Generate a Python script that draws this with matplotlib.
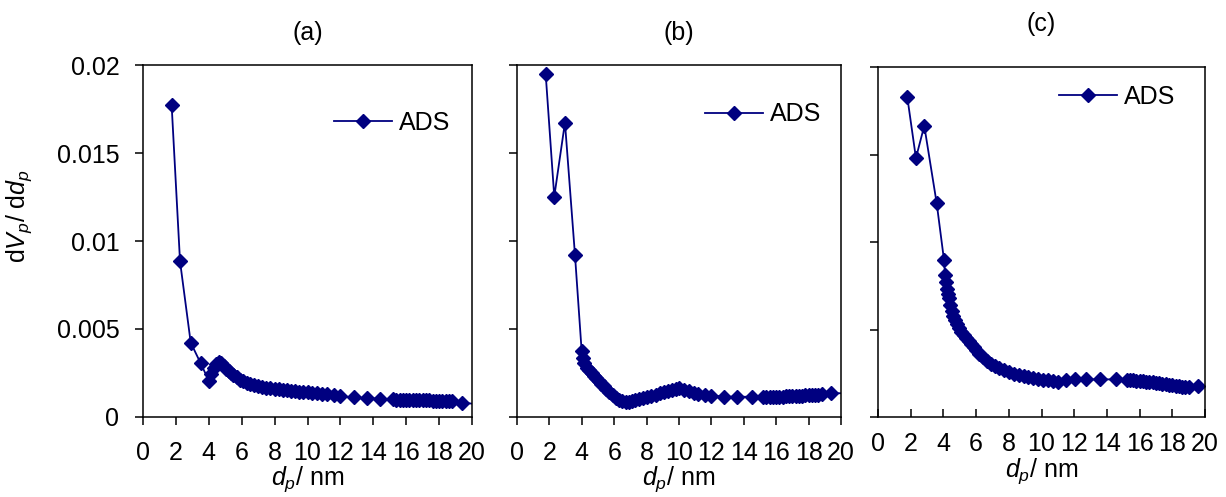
import matplotlib
matplotlib.use("Agg")
import matplotlib.pyplot as plt

plt.rcParams["font.family"] = ["Liberation Sans", "DejaVu Sans"]
plt.rcParams["mathtext.fontset"] = "custom"
plt.rcParams["mathtext.rm"] = "Liberation Sans"
plt.rcParams["mathtext.it"] = "Liberation Sans:italic"

# pore size distribution, panel (a)
x_a = [1.74, 2.25, 2.90, 3.50, 4.01, 4.15, 4.30, 4.45, 4.60, 4.75, 4.90, 5.05, 5.20,
       5.35, 5.50, 5.70, 5.90, 6.10, 6.30, 6.50, 6.75, 7.00, 7.25, 7.50, 7.75, 8.00,
       8.25, 8.50, 8.75, 9.00, 9.25, 9.50, 9.75, 10.0, 10.3, 10.6, 10.9, 11.2, 11.6,
       12.0, 12.8, 13.6, 14.4, 15.2, 15.4, 15.6, 15.8, 16.0, 16.2, 16.4, 16.6, 16.8,
       17.0, 17.2, 17.4, 17.6, 17.8, 18.0, 18.2, 18.4, 18.6, 18.8, 19.37, 20.6]
y_a = [0.01774, 0.00885, 0.00423, 0.00306, 0.00205, 0.00245, 0.00280, 0.00300, 0.00312,
       0.00305, 0.00290, 0.00275, 0.00262, 0.00250, 0.00238, 0.00225, 0.00213, 0.00203,
       0.00195, 0.00190, 0.00184, 0.00178, 0.00172, 0.00167, 0.00163, 0.00160,
       0.00157, 0.00154, 0.00151, 0.00148, 0.00146, 0.00144, 0.00142, 0.00140, 0.00137,
       0.00134, 0.00131, 0.00128, 0.00125, 0.00118, 0.00112, 0.00107, 0.00104,
       0.00100, 0.00099, 0.00098, 0.00098, 0.00097, 0.00097, 0.00096, 0.00096, 0.00095,
       0.00095, 0.00094, 0.00094, 0.00093, 0.00093, 0.00093, 0.00092, 0.00092, 0.00091,
       0.00091, 0.00082, 0.00070]

# panel (b)
x_b = [1.77, 2.30, 2.96, 3.58, 3.99, 4.05, 4.15, 4.30, 4.45, 4.60, 4.75, 4.90, 5.05,
       5.20, 5.35, 5.50, 5.70, 5.90, 6.10, 6.30, 6.50, 6.70, 6.90, 7.10, 7.30, 7.55,
       7.80, 8.05, 8.30, 8.55, 8.80, 9.05, 9.30, 9.55, 9.80, 10.0, 10.3, 10.6, 10.9,
       11.2, 11.6, 12.0, 12.8, 13.6, 14.5, 15.2, 15.4, 15.6, 15.8, 16.0, 16.2, 16.4,
       16.6, 16.8, 17.0, 17.2, 17.4, 17.6, 17.8, 18.0, 18.2, 18.4, 18.6, 18.8, 19.4, 20.6]
y_b = [0.01949, 0.01252, 0.01673, 0.00919, 0.00376, 0.00336, 0.00305, 0.00280, 0.00265,
       0.00250, 0.00235, 0.00220, 0.00205, 0.00190, 0.00175, 0.00158, 0.00140, 0.00124,
       0.00108, 0.00098, 0.00090, 0.00087, 0.00088, 0.00091, 0.00095, 0.00100,
       0.00106, 0.00112, 0.00119, 0.00126, 0.00134, 0.00142, 0.00150, 0.00156, 0.00161,
       0.00163, 0.00155, 0.00146, 0.00138, 0.00132, 0.00125, 0.00122, 0.00116, 0.00115,
       0.00115, 0.00113, 0.00113, 0.00114, 0.00114, 0.00115, 0.00116, 0.00116,
       0.00117, 0.00118, 0.00119, 0.00120, 0.00121, 0.00122, 0.00123, 0.00124, 0.00125,
       0.00126, 0.00127, 0.00128, 0.00135, 0.00135]

# panel (c)
x_c = [1.79, 2.32, 2.83, 3.59, 4.04, 4.10, 4.18, 4.24, 4.30, 4.36, 4.42, 4.50, 4.60,
       4.70, 4.81, 4.95, 5.10, 5.25, 5.40, 5.55, 5.70, 5.85, 6.00, 6.20, 6.40, 6.65,
       6.90, 7.15, 7.40, 7.70, 8.00, 8.30, 8.60, 8.90, 9.20, 9.50, 9.80, 10.1, 10.4,
       10.7, 11.0, 11.5, 12.05, 12.7, 13.6, 14.55, 15.2, 15.4, 15.6, 15.8, 16.0, 16.2,
       16.4, 16.6, 16.8, 17.0, 17.2, 17.4, 17.6, 17.8, 18.0, 18.2, 18.4, 18.6, 18.8,
       19.0, 19.57, 20.6]
y_c = [0.01829, 0.01480, 0.01664, 0.01221, 0.00895, 0.00809, 0.00770, 0.00733, 0.00705,
       0.00682, 0.00640, 0.00605, 0.00578, 0.00552, 0.00530, 0.00508, 0.00488, 0.00468,
       0.00450, 0.00432, 0.00415, 0.00398, 0.00382, 0.00362, 0.00343, 0.00318,
       0.00302, 0.00290, 0.00279, 0.00268, 0.00255, 0.00245, 0.00238, 0.00232, 0.00227,
       0.00222, 0.00218, 0.00214, 0.00210, 0.00205, 0.00202, 0.00210, 0.00215, 0.00215,
       0.00215, 0.00215, 0.00213, 0.00211, 0.00210, 0.00208, 0.00206, 0.00204, 0.00202,
       0.00200, 0.00198, 0.00196, 0.00193, 0.00190, 0.00187, 0.00184, 0.00181, 0.00179,
       0.00177, 0.00174, 0.00173, 0.00172, 0.00177, 0.00170]

titles = ["(a)", "(b)", "(c)"]
series = [(x_a, y_a), (x_b, y_b), (x_c, y_c)]
x_ticks = list(range(0, 21, 2))
y_ticks = [0, 0.005, 0.01, 0.015, 0.02]
y_tick_labels = ["0", "0.005", "0.01", "0.015", "0.02"]

color = "#000080"
fs = 18

fig = plt.figure(figsize=(12.26, 4.97), dpi=100)
positions = [
    [143 / 1226, 80 / 497, 329 / 1226, 352 / 497],
    [517 / 1226, 80 / 497, 324 / 1226, 352 / 497],
    [878 / 1226, 80 / 497, 327 / 1226, 350 / 497],
]
legend_pos = [(0.935, 0.835), (0.94, 0.86), (0.91, 0.915)]
title_pad = [18, 18, 26]

for i, ((xs, ys), title) in enumerate(zip(series, titles)):
    ax = fig.add_axes(positions[i])
    ax.plot(xs, ys, color=color, linewidth=1.3, marker="D", markersize=7,
            markeredgecolor=color, markerfacecolor=color, label="ADS")
    ax.set_xlim(0, 20)
    ax.set_ylim(0, 0.02)
    ax.set_xticks(x_ticks)
    ax.set_yticks(y_ticks)
    if i == 0:
        ax.set_yticklabels(y_tick_labels)
        ax.set_ylabel(r"d$V_p$/ d$d_p$", fontsize=fs)
        ax.yaxis.set_label_coords(-0.33, 0.57)
    else:
        ax.set_yticklabels([])
    ax.tick_params(axis="both", labelsize=fs, width=1.1, length=6, pad=11)
    if i == 2:
        ax.tick_params(axis="x", direction="in")
    ax.set_xlabel(r"$d_p$/ nm", fontsize=fs, labelpad=0)
    ax.set_title(title, fontsize=fs, pad=title_pad[i])
    for sp in ax.spines.values():
        sp.set_linewidth(1.1)
    ax.legend(loc="center right", bbox_to_anchor=legend_pos[i], frameon=False,
              fontsize=fs, handlelength=2.3, handletextpad=0.3,
              borderpad=0, borderaxespad=0)

fig.savefig("out.png", dpi=100)
